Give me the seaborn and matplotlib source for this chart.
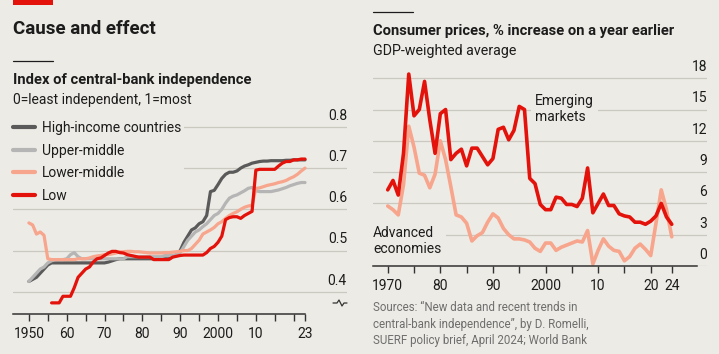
import numpy as np
import pandas as pd
import seaborn as sns
import matplotlib.pyplot as plt
import matplotlib.transforms as mtransforms
from matplotlib.patches import Rectangle
from matplotlib.lines import Line2D

# Index of central-bank independence (annual)
cbi_years = np.arange(1950, 2024)
low_years = np.arange(1956, 2024)
high_income = [
    0.425, 0.43, 0.435, 0.445, 0.455, 0.465, 0.47, 0.47, 0.47, 0.47,  # 1950s
    0.47, 0.47, 0.47, 0.47, 0.47, 0.47, 0.47, 0.47, 0.47, 0.47,  # 1960s
    0.47, 0.472, 0.475, 0.478, 0.48, 0.48, 0.48, 0.48, 0.48, 0.48,  # 1970s
    0.48, 0.48, 0.48, 0.48, 0.48, 0.48, 0.48, 0.48, 0.485, 0.49,  # 1980s
    0.50, 0.52, 0.535, 0.55, 0.555, 0.565, 0.57, 0.585, 0.643, 0.646,  # 1990s
    0.66, 0.675, 0.685, 0.69, 0.69, 0.693, 0.70, 0.705, 0.708, 0.712,  # 2000s
    0.714, 0.716, 0.717, 0.717, 0.718, 0.718, 0.718, 0.718, 0.719, 0.719,  # 2010s
    0.72, 0.72, 0.72, 0.72]
upper_middle = [
    0.425, 0.435, 0.445, 0.455, 0.46, 0.47, 0.475, 0.478, 0.478, 0.478,
    0.48, 0.49, 0.495, 0.485, 0.48, 0.48, 0.48, 0.48, 0.48, 0.48,
    0.48, 0.48, 0.48, 0.48, 0.48, 0.48, 0.485, 0.485, 0.485, 0.485,
    0.485, 0.485, 0.485, 0.485, 0.485, 0.485, 0.488, 0.488, 0.488, 0.49,
    0.495, 0.51, 0.525, 0.535, 0.545, 0.55, 0.558, 0.565, 0.575, 0.585,
    0.59, 0.60, 0.615, 0.627, 0.632, 0.635, 0.64, 0.645, 0.651, 0.653,
    0.645, 0.643, 0.643, 0.643, 0.643, 0.645, 0.647, 0.65, 0.653, 0.657,
    0.66, 0.663, 0.665, 0.665]
lower_middle = [
    0.567, 0.562, 0.54, 0.545, 0.537, 0.48, 0.478, 0.478, 0.478, 0.478,
    0.478, 0.478, 0.478, 0.48, 0.48, 0.48, 0.482, 0.485, 0.487, 0.488,
    0.49, 0.49, 0.492, 0.494, 0.497, 0.497, 0.498, 0.498, 0.497, 0.497,
    0.496, 0.495, 0.494, 0.494, 0.494, 0.494, 0.495, 0.495, 0.496, 0.497,
    0.498, 0.50, 0.50, 0.505, 0.515, 0.525, 0.54, 0.545, 0.55, 0.556,
    0.565, 0.57, 0.578, 0.585, 0.59, 0.594, 0.60, 0.605, 0.608, 0.61,
    0.651, 0.652, 0.655, 0.658, 0.66, 0.662, 0.665, 0.667, 0.67, 0.675,
    0.679, 0.685, 0.693, 0.70]
low_income = [
    0.373, 0.373, 0.373, 0.389,  # 1956-59
    0.389, 0.389, 0.41, 0.435, 0.445, 0.455, 0.46, 0.472, 0.48, 0.482,
    0.488, 0.494, 0.498, 0.498, 0.495, 0.494, 0.49, 0.488, 0.486, 0.484,
    0.484, 0.484, 0.484, 0.478, 0.478, 0.478, 0.478, 0.478, 0.484, 0.486,
    0.488, 0.489, 0.489, 0.489, 0.489, 0.489, 0.489, 0.495, 0.505, 0.51,
    0.52, 0.535, 0.575, 0.58, 0.582, 0.582, 0.578, 0.585, 0.59, 0.595,
    0.695, 0.697, 0.697, 0.697, 0.697, 0.697, 0.705, 0.712, 0.716, 0.716,
    0.72, 0.72, 0.722, 0.722]
cbi_groups = ["High-income countries", "Upper-middle", "Lower-middle", "Low"]
cbi_colors = ["#5a5a5a", "#b5b5b5", "#f7a58c", "#e3120b"]

# Consumer prices, % change on a year earlier
cpi_years = np.arange(1970, 2025)
emerging = [
    7.3, 8.2, 6.8, 10.8, 18.4, 14.4, 15.0, 17.7, 14.0, 10.8,  # 1970s
    14.6, 15.0, 10.2, 10.8, 11.2, 9.6, 11.3, 11.3, 10.5, 9.7,  # 1980s
    10.3, 13.1, 13.3, 12.1, 13.0, 15.3, 15.0, 8.4, 7.9, 5.9,  # 1990s
    5.4, 5.4, 6.6, 6.5, 5.9, 5.9, 5.7, 6.5, 9.4, 5.1,  # 2000s
    6.0, 6.9, 5.8, 5.8, 5.0, 4.8, 4.7, 4.2, 4.2, 4.0,  # 2010s
    4.3, 4.8, 6.0, 4.7, 4.0]
advanced = [
    5.75, 5.4, 4.9, 7.8, 13.4, 11.4, 8.9, 8.7, 7.5, 8.8,
    12.0, 10.2, 7.6, 4.9, 4.7, 4.1, 2.4, 2.9, 3.2, 4.2,
    5.0, 4.6, 3.6, 3.0, 2.6, 2.6, 2.5, 2.3, 1.7, 1.4,
    2.2, 2.2, 1.5, 1.8, 2.0, 2.2, 2.4, 2.3, 3.4, 0.2,
    1.5, 2.6, 1.9, 1.5, 1.4, 0.5, 0.9, 1.7, 2.1, 1.6,
    1.0, 4.1, 7.3, 5.4, 2.8]
cpi_series = ["Advanced economies", "Emerging markets"]
cpi_colors = ["#f7a58c", "#e3120b"]

left_ticks = [1950, 1955, 1960, 1965, 1970, 1975, 1980, 1985, 1990, 1995,
              2000, 2005, 2010, 2015, 2020, 2023]
left_tick_labels = ["1950", "", "60", "", "70", "", "80", "", "90", "",
                    "2000", "", "10", "", "", "23"]
right_ticks = [1970, 1975, 1980, 1985, 1990, 1995, 2000, 2005, 2010, 2015, 2020, 2024]
right_tick_labels = ["1970", "", "80", "", "90", "", "2000", "", "10", "", "20", "24"]
left_yticks = [0.4, 0.5, 0.6, 0.7, 0.8]
right_yticks = [0, 3, 6, 9, 12, 15, 18]

BG = "#edebe5"
INK = "#1c1c1c"
GRID = "#cbc8c0"
FS = 10

sns.set_theme(style="white", rc={"axes.facecolor": BG, "figure.facecolor": BG})
plt.rcParams["font.family"] = ["Roboto", "DejaVu Sans"]
plt.rcParams["text.color"] = INK

fig = plt.figure(figsize=(7.19, 3.54), dpi=100)
W, H = 719, 354
ax1 = fig.add_axes([13 / W, 1 - 314 / H, 334 / W, 204 / H])
ax2 = fig.add_axes([373 / W, 1 - 266 / H, 334 / W, 201 / H])

cbi = pd.concat([
    pd.DataFrame({"year": cbi_years, "index": high_income, "group": cbi_groups[0]}),
    pd.DataFrame({"year": cbi_years, "index": upper_middle, "group": cbi_groups[1]}),
    pd.DataFrame({"year": cbi_years, "index": lower_middle, "group": cbi_groups[2]}),
    pd.DataFrame({"year": low_years, "index": low_income, "group": cbi_groups[3]}),
])
sns.lineplot(data=cbi, x="year", y="index", hue="group", hue_order=cbi_groups,
             palette=cbi_colors, linewidth=2.3, estimator=None, legend=False, ax=ax1)

cpi = pd.concat([
    pd.DataFrame({"year": cpi_years, "pct": advanced, "series": cpi_series[0]}),
    pd.DataFrame({"year": cpi_years, "pct": emerging, "series": cpi_series[1]}),
])
sns.lineplot(data=cpi, x="year", y="pct", hue="series", hue_order=cpi_series,
             palette=cpi_colors, linewidth=2.6, estimator=None, legend=False, ax=ax2)

axis_specs = [
    (ax1, (1945.8, 2034.1), (0.346, 0.841), (1945.8, 2023), left_ticks, left_tick_labels,
     left_yticks, ["0.4", "0.5", "0.6", "0.7", "0.8"]),
    (ax2, (1967.2, 2030.7), (0, 19.27), (1967.2, 2028.8), right_ticks, right_tick_labels,
     right_yticks, [str(v) for v in right_yticks]),
]
for ax, xl, yl, bounds, xt, xtl, yt, ytl in axis_specs:
    ax.set_xlim(*xl)
    ax.set_ylim(*yl)
    ax.set_xlabel("")
    ax.set_ylabel("")
    for s in ["top", "left", "right"]:
        ax.spines[s].set_visible(False)
    ax.spines["bottom"].set_bounds(*bounds)
    ax.spines["bottom"].set_color("#333333")
    ax.spines["bottom"].set_linewidth(1.1)
    ax.set_xticks(xt)
    ax.set_xticklabels(xtl)
    ax.tick_params(axis="x", direction="out", length=5, width=1, color="#333333",
                   pad=4, labelsize=FS, labelcolor=INK, bottom=True)
    ax.set_yticks(yt)
    ax.tick_params(axis="y", length=0, labelleft=False)
    ax.yaxis.grid(True, color=GRID, linewidth=0.9)
    ax.set_axisbelow(True)
    off = mtransforms.ScaledTranslation(0, 3 / 72, fig.dpi_scale_trans)
    for v, lab in zip(yt, ytl):
        ax.text(1.0, v, lab, transform=ax.get_yaxis_transform() + off,
                ha="right", va="bottom", fontsize=FS)

# axis-break mark under the left scale
bx = [333, 337, 339, 342, 344, 347]
by = [303, 303, 300, 306, 303, 303]
ax1.add_line(Line2D([(x - 13) / 334 for x in bx], [(314 - y) / 204 for y in by],
                    transform=ax1.transAxes, color="#333333", lw=0.9, clip_on=False))

leg = ax1.legend(ax1.lines[:4], cbi_groups, loc="upper left", bbox_to_anchor=(-0.008, 0.96),
                 frameon=True, facecolor=BG, edgecolor="none", framealpha=1, fontsize=FS,
                 handlelength=1.55, handletextpad=0.5, labelspacing=0.62, borderpad=0.2,
                 borderaxespad=0)
for h in leg.legend_handles:
    h.set_linewidth(3)

box = dict(facecolor=BG, edgecolor="none", pad=3)
ax2.text(0.485, 0.781, "Emerging\nmarkets", transform=ax2.transAxes, ha="left", va="center",
         fontsize=FS, linespacing=1.2, bbox=box, zorder=1.8)
ax2.text(0.0, 0.124, "Advanced\neconomies", transform=ax2.transAxes, ha="left", va="center",
         fontsize=FS, linespacing=1.2, bbox=box, zorder=1.8)

# headings
fig.add_artist(Rectangle((13 / W, 1 - 5 / H), 40 / W, 5 / H, transform=fig.transFigure,
                         color="#e3120b", lw=0))
fig.add_artist(Line2D([13 / W, 53 / W], [1 - 61 / H] * 2, transform=fig.transFigure,
                      color=INK, lw=0.9))
fig.add_artist(Line2D([373 / W, 413 / W], [1 - 12 / H] * 2, transform=fig.transFigure,
                      color=INK, lw=0.9))
fig.text(13 / W, 1 - 34 / H, "Cause and effect", fontsize=13.5, fontweight="bold", va="baseline")
fig.text(13 / W, 1 - 84 / H, "Index of central-bank independence", fontsize=10.6,
         fontweight="bold", va="baseline")
fig.text(13 / W, 1 - 104 / H, "0=least independent, 1=most", fontsize=FS, va="baseline")
fig.text(373 / W, 1 - 35 / H, "Consumer prices, % increase on a year earlier", fontsize=10.6,
         fontweight="bold", va="baseline")
fig.text(373 / W, 1 - 55 / H, "GDP-weighted average", fontsize=10.3, va="baseline")

sources = ["Sources: \u201cNew data and recent trends in",
           "central-bank independence\u201d, by D. Romelli,",
           "SUERF policy brief, April 2024; World Bank"]
for i, line in enumerate(sources):
    fig.text(373 / W, 1 - (311 + 16.7 * i) / H, line, fontsize=8.3, color="#6e6e6e",
             va="baseline")

fig.savefig("out.png", dpi=100, facecolor=BG)
